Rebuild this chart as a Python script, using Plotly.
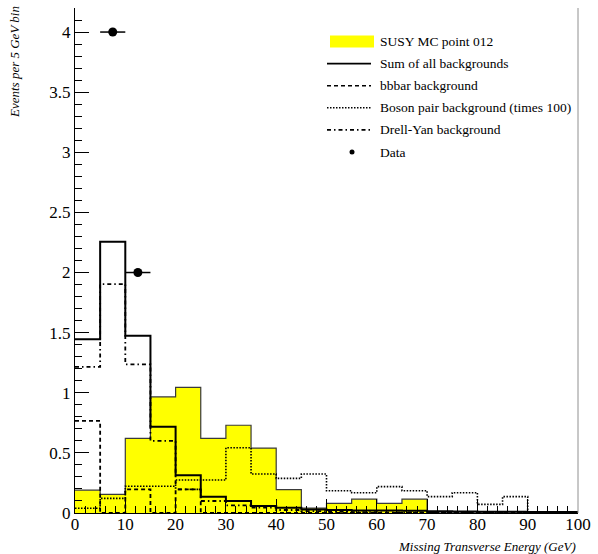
import plotly.graph_objects as go

# Missing transverse energy histograms, 5 GeV bins from 0 to 100 GeV
bin_edges = list(range(0, 105, 5))
susy_mc = [0.19, 0.155, 0.62, 0.965, 1.045, 0.62, 0.73, 0.54, 0.195, 0.04,
           0.08, 0.115, 0.08, 0.115, 0.0, 0.0, 0.0, 0.0, 0.0, 0.0]
sum_bkg = [1.446, 2.255, 1.474, 0.717, 0.315, 0.136, 0.10, 0.058, 0.044, 0.03,
           0.025, 0.02, 0.02, 0.018, 0.015, 0.012, 0.01, 0.01, 0.008, 0.008]
bbbar = [0.767, 0.0, 0.197, 0.0, 0.197, 0.0, 0.0, 0.0, 0.0, 0.0,
         0.0, 0.0, 0.0, 0.0, 0.0, 0.0, 0.0, 0.0, 0.0, 0.0]
boson_x100 = [0.039, 0.122, 0.222, 0.222, 0.274, 0.274, 0.543, 0.324, 0.288, 0.324,
              0.185, 0.169, 0.219, 0.185, 0.136, 0.169, 0.072, 0.136, 0.0, 0.0]
drell_yan = [1.216, 1.904, 1.236, 0.60, 0.197, 0.10, 0.064, 0.044, 0.025, 0.015,
             0.01, 0.008, 0.006, 0.005, 0.004, 0.003, 0.002, 0.002, 0.001, 0.001]

data_x = [7.5, 12.5]
data_y = [4.0, 2.0]
data_half_width = [2.5, 2.5]

SERIF = "Liberation Serif"
DASHES = {"solid": "solid", "dash": "4px,3px", "dot": "1.5px,1.5px",
          "dashdot": "4px,3px,1.5px,3px"}


def steps(values):
    # repeat the last bin so the 'hv' step closes at the upper edge
    return bin_edges, list(values) + [values[-1]]


fig = go.Figure()

sx, sy = steps(susy_mc)
fig.add_trace(go.Scatter(x=sx, y=sy, mode="lines", line_shape="hv",
                         fill="tozeroy", fillcolor="#ffff00",
                         line=dict(color="#3a3a3a", width=1.2),
                         name="SUSY MC point 012", showlegend=False))

line_series = [
    (sum_bkg, "solid", 2.0, "Sum of all backgrounds"),
    (bbbar, "dash", 1.8, "bbbar background"),
    (boson_x100, "dot", 1.6, "Boson pair background (times 100)"),
    (drell_yan, "dashdot", 1.8, "Drell-Yan background"),
]
for vals, dash, width, label in line_series:
    hx, hy = steps(vals)
    fig.add_trace(go.Scatter(x=hx, y=hy, mode="lines", line_shape="hv",
                             line=dict(color="black", width=width, dash=DASHES[dash]),
                             name=label, showlegend=False))

fig.add_trace(go.Scatter(x=data_x, y=data_y, mode="markers",
                         marker=dict(color="black", size=9),
                         error_x=dict(type="data", array=data_half_width,
                                      color="black", thickness=1.5, width=0),
                         name="Data", showlegend=False))

# Legend drawn in paper coordinates
L, T, W, H = 75, 8, 503, 505


def px(x):
    return (x - L) / W


def py(y):
    return (T + H - y) / H


legend_rows = [
    ("box", None, "SUSY MC point 012"),
    ("line", "solid", "Sum of all backgrounds"),
    ("line", "dash", "bbbar background"),
    ("line", "dot", "Boson pair background (times 100)"),
    ("line", "dashdot", "Drell-Yan background"),
    ("marker", None, "Data"),
]
row_y0, row_step = 41.5, 22.1
for i, (kind, dash, text) in enumerate(legend_rows):
    yc = row_y0 + i * row_step
    if kind == "box":
        fig.add_shape(type="rect", xref="paper", yref="paper",
                      x0=px(330), x1=px(374), y0=py(yc + 6), y1=py(yc - 6),
                      fillcolor="#ffff00", line=dict(width=0))
    elif kind == "line":
        fig.add_shape(type="line", xref="paper", yref="paper",
                      x0=px(327), x1=px(371), y0=py(yc), y1=py(yc),
                      line=dict(color="black", width=1.6, dash=DASHES[dash]))
    else:
        fig.add_shape(type="circle", xref="paper", yref="paper",
                      x0=px(349.5), x1=px(354.5), y0=py(yc + 2.5), y1=py(yc - 2.5),
                      fillcolor="black", line=dict(width=0))
    fig.add_annotation(x=px(378), y=py(yc), xref="paper", yref="paper",
                       text=text, showarrow=False, xanchor="left", yanchor="middle",
                       font=dict(family=SERIF, size=13.5, color="black"))

# thin right-hand frame edge
fig.add_shape(type="line", xref="paper", yref="paper", x0=1, x1=1, y0=0, y1=1,
              line=dict(color="#909090", width=1))

fig.add_annotation(x=px(14), y=py(4), xref="paper", yref="paper",
                   text="<i>Events per 5 GeV bin</i>", textangle=-90,
                   showarrow=False, xanchor="center", yanchor="top",
                   font=dict(family=SERIF, size=13, color="black"))
fig.add_annotation(x=1.0, y=py(546), xref="paper", yref="paper",
                   text="<i>Missing Transverse Energy (GeV)</i>",
                   showarrow=False, xanchor="right", yanchor="middle",
                   font=dict(family=SERIF, size=13, color="black"))

fig.update_layout(
    width=598, height=554,
    margin=dict(l=L, r=598 - L - W, t=T, b=554 - T - H),
    paper_bgcolor="white", plot_bgcolor="white",
    font=dict(family=SERIF, size=16, color="black"),
    showlegend=False,
)
fig.update_xaxes(range=[0, 100], dtick=10, tick0=0, ticks="inside", ticklen=14,
                 tickcolor="black", tickwidth=1, showgrid=False, zeroline=False,
                 showline=True, linecolor="black", linewidth=1,
                 ticklabelstandoff=-4,
                 minor=dict(dtick=2, ticks="inside", ticklen=7, tickcolor="black"),
                 tickfont=dict(family=SERIF, size=17))
fig.update_yaxes(range=[0, 4.2], dtick=0.5, tick0=0, ticks="inside", ticklen=14,
                 tickcolor="black", tickwidth=1, showgrid=False, zeroline=False,
                 showline=True, linecolor="black", linewidth=1,
                 minor=dict(dtick=0.1, ticks="inside", ticklen=7, tickcolor="black"),
                 tickfont=dict(family=SERIF, size=17))

fig.write_html("out.html")
